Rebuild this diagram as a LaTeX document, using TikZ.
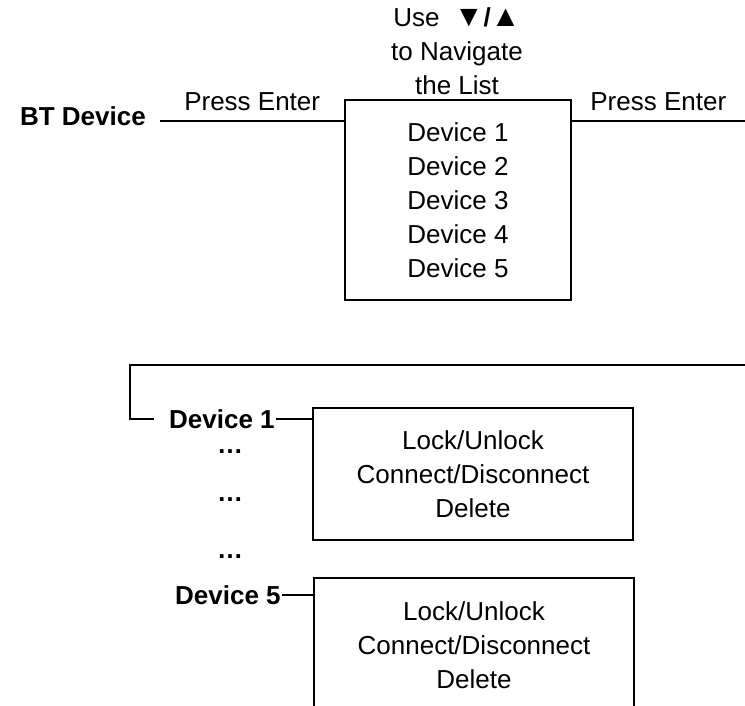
\documentclass[tikz,border=0pt]{standalone}
\usepackage{fontspec}
\setmainfont{Liberation Sans}
\usetikzlibrary{positioning}
\tikzset{
	txt/.style={font=\fontsize{26}{34}\selectfont, inner sep=1pt},
	itemlbl/.style={font=\fontsize{26}{34}\selectfont\bfseries, inner sep=1pt},
	menubox/.style={draw, line width=1.2pt, align=center, txt},
	wire/.style={line width=1.2pt}
}
\begin{document}
\begin{tikzpicture}[x=1pt,y=-1pt]
	\clip (0,0) rectangle (745,705);
	\useasboundingbox (0,0) rectangle (745,705);
	% Lista de dispositivos
		\node[txt, align=center] (hint) at (457,51) {Use\ \ \scalebox{1.15}{▼}{\bfseries/}\scalebox{1.15}{▲}\\to Navigate\\the List};
		\node[menubox, minimum width=226, minimum height=200] (list) at (458,200) {Device 1\\Device 2\\Device 3\\Device 4\\Device 5};
		\node[itemlbl, anchor=east] (bt) at (147,116) {BT Device};
	% Entradas y salidas
		\coordinate (in) at (160,121);
		\coordinate (out) at (745,121);
		\draw[wire] (in) -- (in -| list.west) node[midway, above=9pt, txt] {Press Enter};
		\draw[wire] (list.east |- in) -- (out) node[midway, above=9pt, txt] {Press Enter};
	% Submenus
		\node[itemlbl, anchor=west] (dev1) at (168,419) {Device 1};
		\node[menubox, minimum width=320, minimum height=132] (opt1) at (473,474) {Lock/Unlock\\Connect/Disconnect\\Delete};
		\node[itemlbl] (dots1) at (230,452) {…};
		\node[itemlbl] (dots2) at (230,500) {…};
		\node[itemlbl] (dots3) at (230,557) {…};
		\node[itemlbl, anchor=west] (dev5) at (174,595) {Device 5};
		\node[menubox, minimum width=320, minimum height=134] (opt5) at (474,645) {Lock/Unlock\\Connect/Disconnect\\Delete};
	% Retorno
		\coordinate (ret) at (130,365);
		\draw[wire] (out |- ret) -- (ret) |- ([xshift=-14pt]dev1.west);
		\draw[wire] (dev1.east) -- (dev1.east -| opt1.west);
		\draw[wire] (dev5.east) -- (dev5.east -| opt5.west);
\end{tikzpicture}
\end{document}
